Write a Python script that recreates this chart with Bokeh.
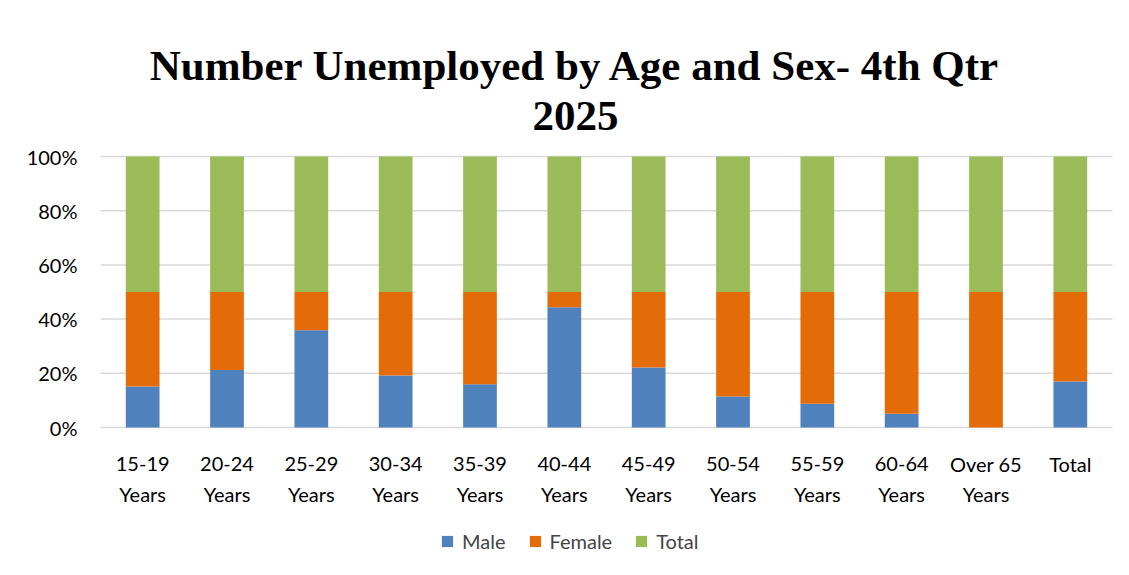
from bokeh.plotting import figure
from bokeh.models import Legend, LegendItem, Range1d, ColumnDataSource
from bokeh.core.properties import value
from bokeh.embed import file_html
from bokeh.resources import INLINE

categories = ["15-19\nYears", "20-24\nYears", "25-29\nYears", "30-34\nYears", "35-39\nYears",
              "40-44\nYears", "45-49\nYears", "50-54\nYears", "55-59\nYears", "60-64\nYears",
              "Over 65\nYears", "Total"]
# shares of the 100% stacked column (fractions)
male = [0.151, 0.212, 0.359, 0.192, 0.160, 0.444, 0.221, 0.114, 0.088, 0.051, 0.0, 0.170]
female = [0.349, 0.288, 0.141, 0.308, 0.340, 0.056, 0.279, 0.386, 0.412, 0.449, 0.500, 0.330]
total = [0.5, 0.5, 0.5, 0.5, 0.5, 0.5, 0.5, 0.5, 0.5, 0.5, 0.5, 0.5]
series = ["Male", "Female", "Total"]
colors = ["#4F81BD", "#E36C09", "#9BBB59"]
y_ticks = [0, 0.2, 0.4, 0.6, 0.8, 1.0]
title_lines = ["Number Unemployed by Age and Sex- 4th Qtr", "2025"]

n = len(categories)
xs = [i + 0.5 for i in range(n)]
line1 = [c.split("\n")[0] for c in categories]
line2 = [c.split("\n")[1] if "\n" in c else "" for c in categories]

W, H = 1129, 575
left_px, right_px, top_px, bottom_px = 100, 1112, 156, 427
ux = (right_px - left_px) / n           # px per category
uy = (bottom_px - top_px) / 1.0         # px per unit share

p = figure(width=W, height=H, output_backend="svg", toolbar_location=None,
           x_range=Range1d(-left_px / ux, n + (W - right_px) / ux),
           y_range=Range1d(-(H - bottom_px) / uy, bottom_px / uy),
           min_border=0)
p.xaxis.visible = False
p.yaxis.visible = False
p.grid.visible = False
p.outline_line_color = None
p.background_fill_color = "white"
p.border_fill_color = "white"

# gridlines across the plot area
p.segment(x0=[0] * len(y_ticks), x1=[n] * len(y_ticks), y0=y_ticks, y1=y_ticks,
          line_color="#d9d9d9", line_width=1.5)

src = ColumnDataSource(dict(x=xs, Male=male, Female=female, Total=total))
renderers = p.vbar_stack(series, x="x", width=0.4, source=src, color=colors, line_color=None)

# y tick labels
p.text(x=[-23 / ux] * len(y_ticks), y=y_ticks, text=[f"{int(round(t * 100))}%" for t in y_ticks],
       text_font=value("Lato"), text_font_size=value("20px"), text_color="#000000",
       text_align="right", text_baseline="middle")

# category labels (two lines)
p.text(x=xs, y=[-(463 - bottom_px) / uy] * n, text=line1,
       text_font=value("Lato"), text_font_size=value("20px"), text_color="#000000",
       text_align="center", text_baseline="alphabetic")
p.text(x=xs, y=[-(493 - bottom_px) / uy] * n, text=line2,
       text_font=value("Lato"), text_font_size=value("20px"), text_color="#000000",
       text_align="center", text_baseline="alphabetic")

# title (two lines)
tx = (575 - left_px) / ux
p.text(x=[tx, tx], y=[(bottom_px - 65) / uy, (bottom_px - 115) / uy], text=title_lines,
       text_font=value("Liberation Serif"), text_font_style="bold",
       text_font_size=value("43px"), text_color="#000000",
       text_align="center", text_baseline="alphabetic")

legend = Legend(items=[LegendItem(label=s, renderers=[r]) for s, r in zip(series, renderers)],
                orientation="horizontal", location=(440, 22),
                label_text_font="Lato", label_text_font_size="20px",
                glyph_width=14, glyph_height=14, label_standoff=8, spacing=22,
                border_line_color=None, background_fill_alpha=0, margin=0, padding=4)
p.add_layout(legend, "center")

open("out.html", "w").write(file_html(p, INLINE))
